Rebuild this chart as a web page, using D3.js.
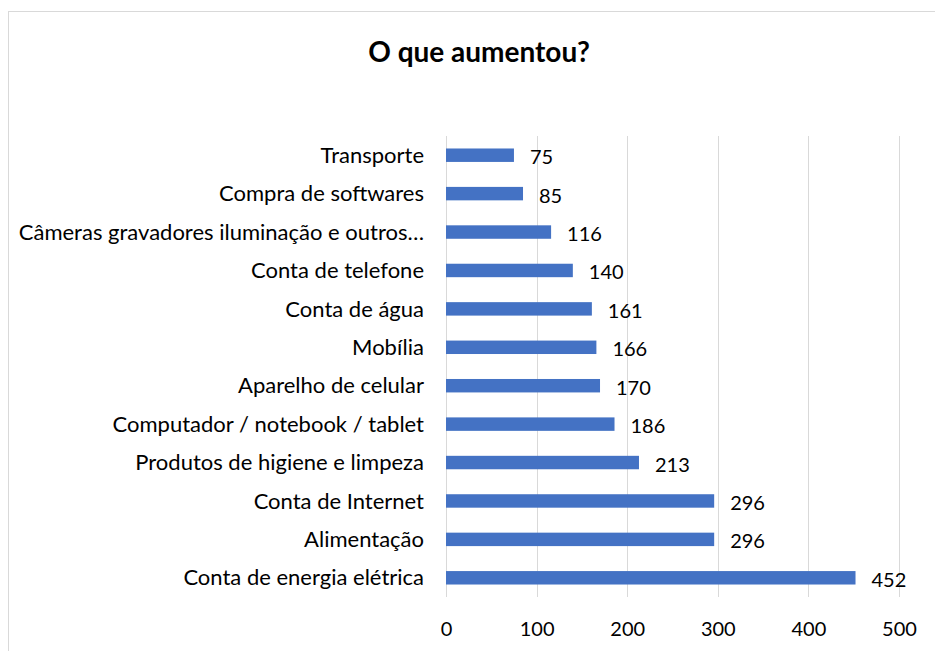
<!DOCTYPE html>
<html>
<head>
<meta charset="utf-8">
<script src="https://cdn.jsdelivr.net/npm/d3@7"></script>
<style>
  body { margin: 0; background: #fff; }
  text { font-family: Lato, "Open Sans", sans-serif; fill: #000; }
</style>
</head>
<body>
<div id="chart"></div>
<script>
const title = "O que aumentou?";
const categories = [
    "Transporte",
    "Compra de softwares",
    "Câmeras gravadores iluminação e outros…",
    "Conta de telefone",
    "Conta de água",
    "Mobília",
    "Aparelho de celular",
    "Computador / notebook / tablet",
    "Produtos de higiene e limpeza",
    "Conta de Internet",
    "Alimentação",
    "Conta de energia elétrica"
];
const values = [75, 85, 116, 140, 161, 166, 170, 186, 213, 296, 296, 452];
const xTicks = [0, 100, 200, 300, 400, 500];

const W = 935, H = 651;
const plot = { left: 446, right: 899, top: 136, bottom: 597 };

const svg = d3.select("#chart").append("svg")
    .attr("width", W)
    .attr("height", H);

// chart frame
svg.append("rect")
    .attr("x", 8.5).attr("y", 11.5)
    .attr("width", W).attr("height", H)
    .attr("fill", "none")
    .attr("stroke", "#d9d9d9");

svg.append("text")
    .attr("x", 479).attr("y", 62)
    .attr("text-anchor", "middle")
    .style("font-size", "28px")
    .style("font-weight", "bold")
    .text(title);

const x = d3.scaleLinear().domain([0, 500]).range([plot.left, plot.right]);
const y = d3.scaleBand().domain(categories)
    .range([plot.top, plot.bottom])
    .paddingInner(0.65).paddingOuter(0.325);

// gridlines
svg.append("g")
    .selectAll("line")
    .data(xTicks)
    .join("line")
    .attr("x1", d => Math.round(x(d)) + 0.5)
    .attr("x2", d => Math.round(x(d)) + 0.5)
    .attr("y1", plot.top)
    .attr("y2", plot.bottom)
    .attr("stroke", "#d9d9d9")
    .attr("stroke-width", 1);

// x axis labels
const xAxis = d3.axisBottom(x).tickValues(xTicks).tickSize(0).tickPadding(0);
svg.append("g")
    .attr("transform", `translate(0,${plot.bottom})`)
    .call(xAxis)
    .call(g => g.select(".domain").remove())
    .selectAll("text")
    .attr("y", 39)
    .attr("dy", 0)
    .style("font-size", "20px")
    .style("font-family", "Lato, sans-serif");

// y axis labels
const yAxis = d3.axisLeft(y).tickSize(0).tickPadding(22);
svg.append("g")
    .attr("transform", `translate(${plot.left},0)`)
    .call(yAxis)
    .call(g => g.select(".domain").remove())
    .selectAll("text")
    .attr("dy", "0.35em")
    .style("font-size", "22px")
    .style("font-family", "Lato, sans-serif");

// bars
svg.append("g")
    .selectAll("rect")
    .data(values)
    .join("rect")
    .attr("x", x(0))
    .attr("y", (d, i) => y(categories[i]))
    .attr("width", d => x(d) - x(0))
    .attr("height", y.bandwidth())
    .attr("fill", "#4472C4");

// value labels
svg.append("g")
    .selectAll("text")
    .data(values)
    .join("text")
    .attr("x", d => x(d) + 16)
    .attr("y", (d, i) => y(categories[i]) + y.bandwidth() / 2 + 2)
    .attr("dy", "0.35em")
    .style("font-size", "20px")
    .text(d => d);
</script>
</body>
</html>
